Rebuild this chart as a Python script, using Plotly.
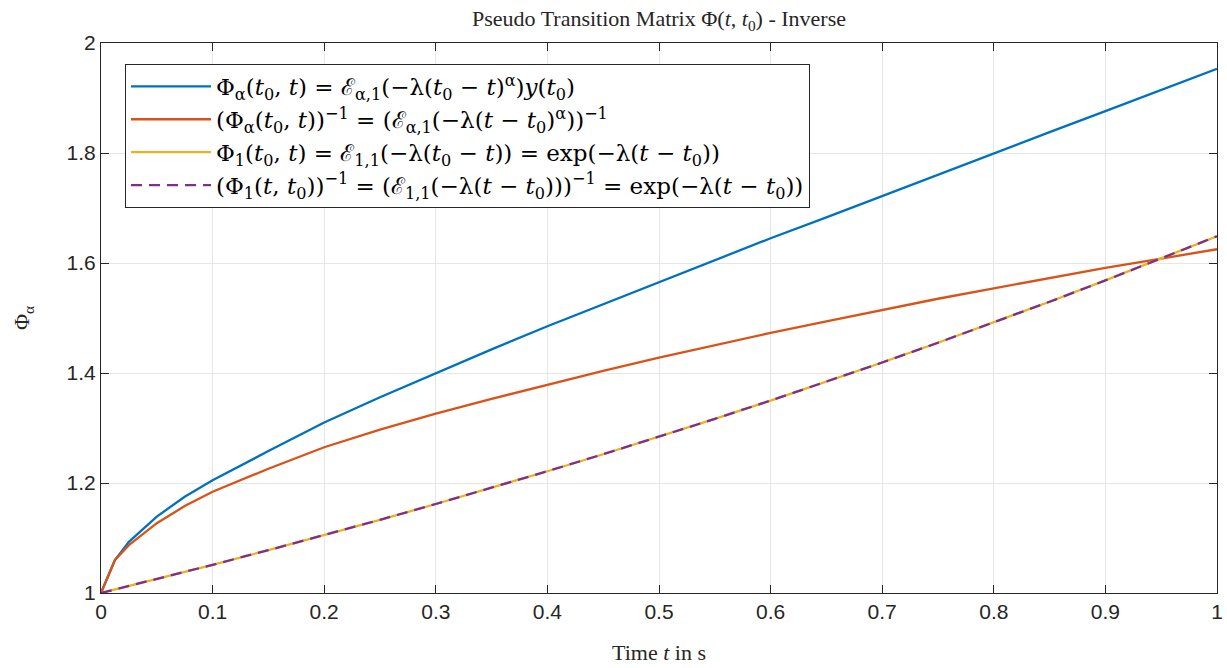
import plotly.graph_objects as go

t = [0, 0.0125, 0.025, 0.05, 0.075, 0.1, 0.15, 0.2, 0.25, 0.3, 0.35, 0.4, 0.45,
     0.5, 0.55, 0.6, 0.65, 0.7, 0.75, 0.8, 0.85, 0.9, 0.95, 1.0]
phi_alpha = [1.0, 1.06, 1.093, 1.139, 1.175, 1.205, 1.258, 1.31, 1.356, 1.40, 1.443,
             1.485, 1.525, 1.565, 1.605, 1.645, 1.683, 1.722, 1.76, 1.80, 1.838,
             1.876, 1.914, 1.953]
phi_alpha_inv = [1.0, 1.06, 1.087, 1.127, 1.158, 1.184, 1.226, 1.265, 1.297, 1.326,
                 1.353, 1.379, 1.404, 1.428, 1.451, 1.473, 1.494, 1.515, 1.535,
                 1.554, 1.573, 1.591, 1.608, 1.625]
phi_one = [1.0, 1.0063, 1.0126, 1.0253, 1.0382, 1.0513, 1.0779, 1.1052, 1.1331,
           1.1618, 1.1912, 1.2214, 1.2523, 1.2840, 1.3165, 1.3499, 1.3840, 1.4191,
           1.4550, 1.4918, 1.5296, 1.5683, 1.6080, 1.6487]
phi_one_inv = [1.0, 1.0063, 1.0126, 1.0253, 1.0382, 1.0513, 1.0779, 1.1052, 1.1331,
               1.1618, 1.1912, 1.2214, 1.2523, 1.2840, 1.3165, 1.3499, 1.3840, 1.4191,
               1.4550, 1.4918, 1.5296, 1.5683, 1.6080, 1.6487]

x_ticks = [0, 0.1, 0.2, 0.3, 0.4, 0.5, 0.6, 0.7, 0.8, 0.9, 1]
x_ticklabels = ["0", "0.1", "0.2", "0.3", "0.4", "0.5", "0.6", "0.7", "0.8", "0.9", "1"]
y_ticks = [1, 1.2, 1.4, 1.6, 1.8, 2]
y_ticklabels = ["1", "1.2", "1.4", "1.6", "1.8", "2"]

names = [
    "Φ<sub>α</sub>(<i>t</i><sub>0</sub>, <i>t</i>) = ℰ<sub>α,1</sub>(−λ(<i>t</i><sub>0</sub> − <i>t</i>)<sup>α</sup>)<i>y</i>(<i>t</i><sub>0</sub>)",
    "(Φ<sub>α</sub>(<i>t</i><sub>0</sub>, <i>t</i>))<sup>−1</sup> = (ℰ<sub>α,1</sub>(−λ(<i>t</i> − <i>t</i><sub>0</sub>)<sup>α</sup>))<sup>−1</sup>",
    "Φ<sub>1</sub>(<i>t</i><sub>0</sub>, <i>t</i>) = ℰ<sub>1,1</sub>(−λ(<i>t</i><sub>0</sub> − <i>t</i>)) = exp(−λ(<i>t</i> − <i>t</i><sub>0</sub>))",
    "(Φ<sub>1</sub>(<i>t</i>, <i>t</i><sub>0</sub>))<sup>−1</sup> = (ℰ<sub>1,1</sub>(−λ(<i>t</i> − <i>t</i><sub>0</sub>)))<sup>−1</sup> = exp(−λ(<i>t</i> − <i>t</i><sub>0</sub>))",
]
colors = ["#0072BD", "#D95319", "#EDB120", "#7E2F8E"]
series = [phi_alpha, phi_alpha_inv, phi_one, phi_one_inv]
dashes = ["solid", "solid", "solid", "11px,7px"]

serif = "Liberation Serif, DejaVu Serif, serif"

fig = go.Figure()
for ys, nm, c, d in zip(series, names, colors, dashes):
    fig.add_trace(go.Scatter(x=t, y=ys, mode="lines", name=nm,
                             line=dict(color=c, width=2.3, dash=d)))

axis_common = dict(
    showline=True, linecolor="#262626", linewidth=1, mirror="allticks",
    ticks="inside", ticklen=8, tickcolor="#262626", automargin=False,
    showgrid=True, gridcolor="#e6e6e6", gridwidth=1, zeroline=False,
    tickfont=dict(family="Liberation Sans, Arial", size=21, color="#262626"),
)

fig.update_layout(
    width=1227, height=668,
    margin=dict(l=101, r=10, t=43, b=75, autoexpand=False),
    paper_bgcolor="white", plot_bgcolor="white",
    title=dict(text="Pseudo Transition Matrix Φ(<i>t</i>, <i>t</i><sub>0</sub>) - Inverse",
               x=0.5, xref="paper", y=0.972, yanchor="middle",
               font=dict(family=serif, size=22, color="#262626")),
    xaxis=dict(range=[0, 1], tickvals=x_ticks, ticktext=x_ticklabels,
               title=dict(text="Time <i>t</i> in s", standoff=22,
                          font=dict(family=serif, size=22, color="#262626")),
               **axis_common),
    yaxis=dict(range=[1, 2], tickvals=y_ticks, ticktext=y_ticklabels,
               title=dict(text="Φ<sub>α</sub>", standoff=30,
                          font=dict(family=serif, size=22, color="#262626")),
               **axis_common),
    legend=dict(x=0.0215, y=0.962, xanchor="left", yanchor="top",
                bgcolor="white", bordercolor="#262626", borderwidth=1,
                font=dict(family="DejaVu Serif, serif", size=23, color="#000000"),
                tracegroupgap=0, itemwidth=80),
    showlegend=True,
)

fig.write_html("out.html")
